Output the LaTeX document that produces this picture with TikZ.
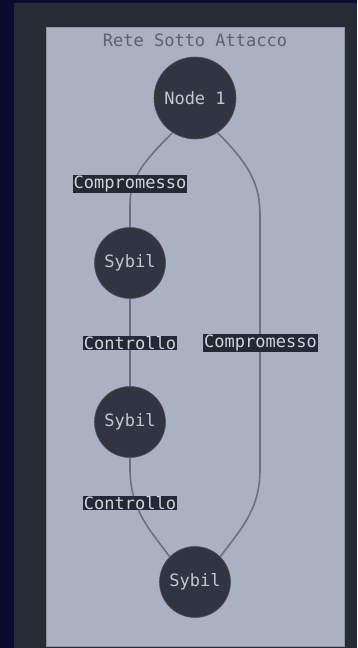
\documentclass[tikz,border=0pt]{standalone}
\usepackage{fontspec}
\setmonofont{DejaVu Sans Mono}
\definecolor{navy}{HTML}{0B0B30}
\definecolor{panel}{HTML}{272B36}
\definecolor{boxbg}{HTML}{AAB1C0}
\definecolor{boxline}{HTML}{8E95A4}
\definecolor{nodefill}{HTML}{313541}
\definecolor{nodetext}{HTML}{C3C7CF}
\definecolor{edgecol}{HTML}{6A7184}
\definecolor{titlecol}{HTML}{5B6170}
\definecolor{lblfill}{HTML}{252936}
\definecolor{lbltext}{HTML}{D0D4DC}
\begin{document}
\begin{tikzpicture}[x=1pt,y=-1pt,
  every node/.style={font=\ttfamily\fontsize{17}{20}\selectfont},
  vert/.style={circle,fill=nodefill,draw=nodefill!85!white,line width=0.6pt,text=nodetext,inner sep=0pt},
  elabel/.style={fill=lblfill,text=lbltext,inner sep=0.8pt},
  conn/.style={draw=edgecol,line width=1.6pt}]
\useasboundingbox (0,0) rectangle (357,648);
\fill[navy] (0,0) rectangle (357,648);
\fill[panel] (14,3) rectangle (357,648);
\draw[fill=boxbg,draw=boxline,line width=0.8pt] (46,27) rectangle (344,646);
\node[text=titlecol] (title) at (195,40) {Rete Sotto Attacco};
\node[vert,minimum size=82pt] (n1) at (195,98) {Node 1};
\node[vert,minimum size=71pt] (s1) at (130,263) {Sybil};
\node[vert,minimum size=71pt] (s2) at (130,422) {Sybil};
\node[vert,minimum size=71pt] (s3) at (195,582) {Sybil};
\coordinate (a1) at (130,205);
\coordinate (b1) at (260,215);
\coordinate (b2) at (260,470);
\coordinate (c1) at (130,468);
\draw[conn] (n1.-123) .. controls (140,165) and (130,180) .. (a1) -- (s1.north);
\draw[conn] (s1.south) -- (s2.north);
\draw[conn] (s2.south) -- (c1) .. controls (130,510) and (150,530) .. (s3.135);
\draw[conn] (n1.-57) .. controls (250,165) and (260,185) .. (b1) -- (b2) .. controls (260,510) and (240,530) .. (s3.45);
\node[elabel] (l1) at (130,184) {Compromesso};
\node[elabel] (l2) at (130,343) {Controllo};
\node[elabel] (l3) at (260.5,343) {Compromesso};
\node[elabel] (l4) at (130,503) {Controllo};
\end{tikzpicture}
\end{document}
